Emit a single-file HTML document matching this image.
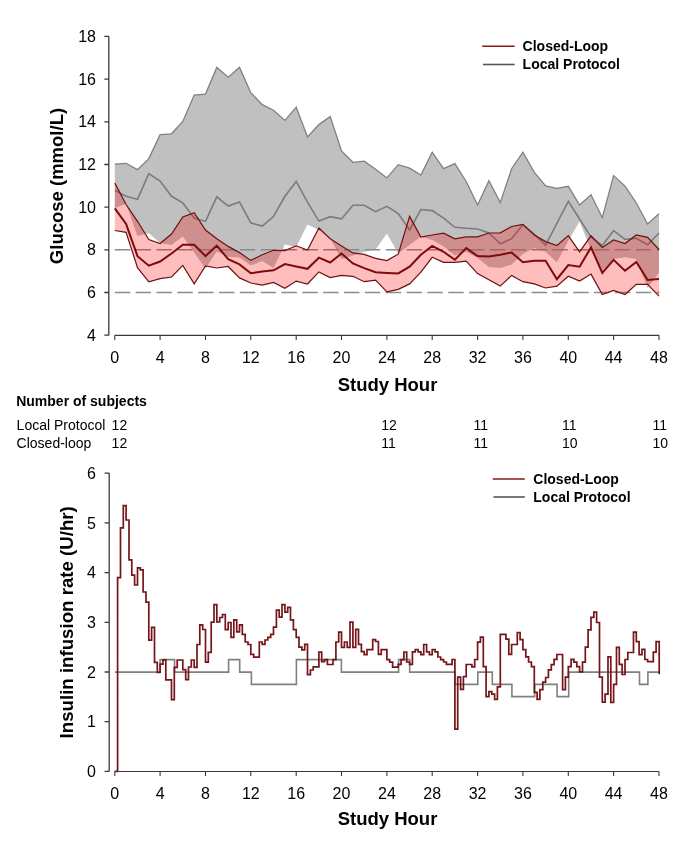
<!DOCTYPE html>
<html><head><meta charset="utf-8"><style>
html,body{margin:0;padding:0;background:#fff;}
svg{display:block;will-change:transform;}
text{font-family:"Liberation Sans",sans-serif;fill:#000;}
</style></head><body>
<svg width="685" height="856" viewBox="0 0 685 856">
<rect width="685" height="856" fill="#fff"/>
<!-- TOP CHART -->
<polygon points="114.8,164.2 126.1,163.3 137.5,169.6 148.8,158.6 160.1,134.6 171.5,133.8 182.8,121.4 194.2,95.1 205.5,94.1 216.8,67.4 228.2,77.2 239.5,67.4 250.8,92.7 262.2,104.6 273.5,110.2 284.9,120.4 296.2,107.2 307.5,137 318.9,124.6 330.2,116.6 341.5,150.9 352.9,162.3 364.2,161.1 375.6,169.2 386.9,177.9 398.2,164.7 409.6,168.1 420.9,175 432.2,152.3 443.6,168.7 454.9,163.6 466.2,181.5 477.6,205 488.9,180.8 500.3,202.6 511.6,168.7 522.9,152.2 534.3,172.3 545.6,185.8 556.9,188.4 568.3,186.3 579.6,205 591,194.8 602.3,217.7 613.6,175.6 625,186.1 636.3,203 647.6,224 659,213.8 659,272.5 647.6,288 636.3,259.1 625,257.2 613.6,259.1 602.3,270.4 591,250.3 579.6,221.4 568.3,240.7 556.9,262.3 545.6,251.8 534.3,248.1 522.9,253.9 511.6,264.6 500.3,268.1 488.9,267.1 477.6,258 466.2,251.8 454.9,255.4 443.6,246.6 432.2,240 420.9,236.4 409.6,245 398.2,253.4 386.9,233.6 375.6,249.6 364.2,251.8 352.9,255.4 341.5,259 330.2,238.6 318.9,230 307.5,224.5 296.2,247 284.9,244.4 273.5,268.1 262.2,261.1 250.8,265.4 239.5,257.6 228.2,256.7 216.8,251.5 205.5,268.6 194.2,252.4 182.8,236.4 171.5,245 160.1,243 148.8,233.2 137.5,236 126.1,203.7 114.8,208" fill="#c0c0c0" stroke="none"/>
<polyline points="114.8,164.2 126.1,163.3 137.5,169.6 148.8,158.6 160.1,134.6 171.5,133.8 182.8,121.4 194.2,95.1 205.5,94.1 216.8,67.4 228.2,77.2 239.5,67.4 250.8,92.7 262.2,104.6 273.5,110.2 284.9,120.4 296.2,107.2 307.5,137 318.9,124.6 330.2,116.6 341.5,150.9 352.9,162.3 364.2,161.1 375.6,169.2 386.9,177.9 398.2,164.7 409.6,168.1 420.9,175 432.2,152.3 443.6,168.7 454.9,163.6 466.2,181.5 477.6,205 488.9,180.8 500.3,202.6 511.6,168.7 522.9,152.2 534.3,172.3 545.6,185.8 556.9,188.4 568.3,186.3 579.6,205 591,194.8 602.3,217.7 613.6,175.6 625,186.1 636.3,203 647.6,224 659,213.8" fill="none" stroke="#808080" stroke-width="1.3" stroke-linejoin="miter"/>
<polyline points="114.8,190.4 126.1,196.2 137.5,199.4 148.8,173.6 160.1,181 171.5,196.3 182.8,202.9 194.2,218 205.5,221.4 216.8,196.8 228.2,206.1 239.5,202.1 250.8,222.8 262.2,226.1 273.5,216.6 284.9,196.3 296.2,181.4 307.5,202.1 318.9,221.1 330.2,216.7 341.5,218.9 352.9,205.3 364.2,205.3 375.6,211.6 386.9,206.3 398.2,213.6 409.6,230 420.9,209.5 432.2,210.6 443.6,218.1 454.9,227.3 466.2,228.3 477.6,229 488.9,233 500.3,243.8 511.6,238.7 522.9,224.8 534.3,234.2 545.6,245.2 556.9,223.3 568.3,201.3 579.6,219 591,237.1 602.3,245.5 613.6,230.7 625,239.4 636.3,238.3 647.6,244.7 659,233" fill="none" stroke="#7b7b7b" stroke-width="1.6"/>
<path d="M114.8,249.8H659.5M114.8,292.5H659.5" stroke="#8c8c8c" stroke-width="1.6" stroke-dasharray="15.4 5.44" fill="none"/>
<polygon points="114.8,183.1 126.1,204.5 137.5,221.3 148.8,239.5 160.1,243.5 171.5,234 182.8,217 194.2,212.7 205.5,230 216.8,238.8 228.2,246.4 239.5,252.6 250.8,260.4 262.2,254.8 273.5,250.3 284.9,250.6 296.2,245.8 307.5,250 318.9,228 330.2,238.7 341.5,245.9 352.9,252.9 364.2,254.4 375.6,258.3 386.9,260.6 398.2,254.2 409.6,216.4 420.9,237.1 432.2,235 443.6,233.1 454.9,238.9 466.2,236.9 477.6,236.9 488.9,233 500.3,232.8 511.6,226.5 522.9,224.3 534.3,235 545.6,241.6 556.9,245.5 568.3,235.6 579.6,251.9 591,235.8 602.3,247.4 613.6,239.9 625,243.5 636.3,235 647.6,237.4 659,249.5 659,296.1 647.6,284.3 636.3,284.3 625,294.5 613.6,290.4 602.3,294.5 591,274.1 579.6,281.1 568.3,276.3 556.9,286.1 545.6,288 534.3,283.9 522.9,281.7 511.6,275.4 500.3,286.1 488.9,279.8 477.6,273.6 466.2,261.2 454.9,262.3 443.6,262.3 432.2,257.3 420.9,272.2 409.6,283.9 398.2,289.4 386.9,291.9 375.6,280.2 364.2,281.7 352.9,276.3 341.5,275.4 330.2,277.6 318.9,271.9 307.5,284 296.2,281.1 284.9,288.2 273.5,282.5 262.2,285.2 250.8,283 239.5,277.9 228.2,266.5 216.8,268 205.5,266 194.2,283.8 182.8,265.4 171.5,277 160.1,278.7 148.8,281.8 137.5,267.7 126.1,232.3 114.8,230.5" fill="rgba(255,0,0,0.255)" stroke="none"/>
<polyline points="114.8,183.1 126.1,204.5 137.5,221.3 148.8,239.5 160.1,243.5 171.5,234 182.8,217 194.2,212.7 205.5,230 216.8,238.8 228.2,246.4 239.5,252.6 250.8,260.4 262.2,254.8 273.5,250.3 284.9,250.6 296.2,245.8 307.5,250 318.9,228 330.2,238.7 341.5,245.9 352.9,252.9 364.2,254.4 375.6,258.3 386.9,260.6 398.2,254.2 409.6,216.4 420.9,237.1 432.2,235 443.6,233.1 454.9,238.9 466.2,236.9 477.6,236.9 488.9,233 500.3,232.8 511.6,226.5 522.9,224.3 534.3,235 545.6,241.6 556.9,245.5 568.3,235.6 579.6,251.9 591,235.8 602.3,247.4 613.6,239.9 625,243.5 636.3,235 647.6,237.4 659,249.5" fill="none" stroke="#6e1010" stroke-width="1.2"/>
<polyline points="114.8,230.5 126.1,232.3 137.5,267.7 148.8,281.8 160.1,278.7 171.5,277 182.8,265.4 194.2,283.8 205.5,266 216.8,268 228.2,266.5 239.5,277.9 250.8,283 262.2,285.2 273.5,282.5 284.9,288.2 296.2,281.1 307.5,284 318.9,271.9 330.2,277.6 341.5,275.4 352.9,276.3 364.2,281.7 375.6,280.2 386.9,291.9 398.2,289.4 409.6,283.9 420.9,272.2 432.2,257.3 443.6,262.3 454.9,262.3 466.2,261.2 477.6,273.6 488.9,279.8 500.3,286.1 511.6,275.4 522.9,281.7 534.3,283.9 545.6,288 556.9,286.1 568.3,276.3 579.6,281.1 591,274.1 602.3,294.5 613.6,290.4 625,294.5 636.3,284.3 647.6,284.3 659,296.1" fill="none" stroke="#6e1010" stroke-width="1.2"/>
<polyline points="114.8,208.3 126.1,224 137.5,256.2 148.8,265.7 160.1,261.5 171.5,253.5 182.8,244.7 194.2,244.7 205.5,256.1 216.8,245.6 228.2,259.2 239.5,264.4 250.8,273.2 262.2,271.5 273.5,270.3 284.9,264.1 296.2,266.4 307.5,268.8 318.9,257.7 330.2,262.5 341.5,253.5 352.9,263.4 364.2,268.1 375.6,272.2 386.9,272.9 398.2,273.4 409.6,266.6 420.9,254.7 432.2,245.9 443.6,251.8 454.9,259.8 466.2,248.1 477.6,256.1 488.9,256.4 500.3,254.7 511.6,252.5 522.9,262.3 534.3,260.8 545.6,260.8 556.9,279.2 568.3,265.1 579.6,266.7 591,247.4 602.3,272.8 613.6,259.9 625,270.8 636.3,261.9 647.6,280 659,278.9" fill="none" stroke="#7e0b0b" stroke-width="2"/>
<path d="M108.8,36.4V335.4M104.3,335.2h4.6M104.3,292.5h4.6M104.3,249.8h4.6M104.3,207.2h4.6M104.3,164.5h4.6M104.3,121.8h4.6M104.3,79.1h4.6M104.3,36.4h4.6" stroke="#3a3a3a" stroke-width="1.3" fill="none"/><path d="M114.5,335.4H659.3M114.8,335.4v4.5M160.1,335.4v4.5M205.5,335.4v4.5M250.8,335.4v4.5M296.2,335.4v4.5M341.5,335.4v4.5M386.9,335.4v4.5M432.2,335.4v4.5M477.6,335.4v4.5M522.9,335.4v4.5M568.3,335.4v4.5M613.6,335.4v4.5M659,335.4v4.5" stroke="#3a3a3a" stroke-width="1.1" fill="none"/>
<g font-size="16"><text x="96" y="340.8" text-anchor="end">4</text><text x="96" y="298.1" text-anchor="end">6</text><text x="96" y="255.4" text-anchor="end">8</text><text x="96" y="212.8" text-anchor="end">10</text><text x="96" y="170.1" text-anchor="end">12</text><text x="96" y="127.4" text-anchor="end">14</text><text x="96" y="84.7" text-anchor="end">16</text><text x="96" y="42" text-anchor="end">18</text><text x="114.8" y="362.5" text-anchor="middle">0</text><text x="160.1" y="362.5" text-anchor="middle">4</text><text x="205.5" y="362.5" text-anchor="middle">8</text><text x="250.8" y="362.5" text-anchor="middle">12</text><text x="296.2" y="362.5" text-anchor="middle">16</text><text x="341.5" y="362.5" text-anchor="middle">20</text><text x="386.9" y="362.5" text-anchor="middle">24</text><text x="432.2" y="362.5" text-anchor="middle">28</text><text x="477.6" y="362.5" text-anchor="middle">32</text><text x="522.9" y="362.5" text-anchor="middle">36</text><text x="568.3" y="362.5" text-anchor="middle">40</text><text x="613.6" y="362.5" text-anchor="middle">44</text><text x="659" y="362.5" text-anchor="middle">48</text></g>
<text x="387.5" y="390.6" font-size="18.5" font-weight="bold" text-anchor="middle">Study Hour</text>
<text transform="translate(63.3,186) rotate(-90)" font-size="18.5" font-weight="bold" text-anchor="middle">Glucose (mmol/L)</text>
<path d="M482.2,46.3H514.7" stroke="#8b1a1a" stroke-width="1.6"/>
<path d="M483,64.5H514.7" stroke="#555" stroke-width="1.6"/>
<g font-size="14" font-weight="bold"><text x="522.6" y="50.8">Closed-Loop</text><text x="522.6" y="69.2">Local Protocol</text></g>
<!-- TABLE -->
<g font-size="14">
<text x="16.2" y="406" font-weight="bold">Number of subjects</text>
<text x="16.6" y="429.7">Local Protocol</text><text x="111.6" y="429.7">12</text>
<text x="381.3" y="429.7">12</text><text x="473.5" y="429.7">11</text><text x="562" y="429.7">11</text><text x="652.5" y="429.7">11</text>
<text x="16.6" y="447.9">Closed-loop</text><text x="111.6" y="447.9">12</text>
<text x="381.3" y="447.9">11</text><text x="473.5" y="447.9">11</text><text x="562" y="447.9">10</text><text x="652.5" y="447.9">10</text>
</g>
<!-- BOTTOM CHART -->
<path d="M114.8,672.1H160.1V659.6H174.6V672.1H228.6V659.6H239.7V672.1H251.4V684.4H296.4V659.6H341.4V672.1H398.6V659.6H409.7V672.1H455V684.4H477.8V672.1H492.3V684.4H511.9V696.6H534.7V684.4H557.1V696.6H568.7V672.1H639.5V684.4H647.9V672.1H659.2" fill="none" stroke="#808080" stroke-width="1.6"/>
<path d="M114.8,771.4H117.6V577.7H120.5V527.8H123.3V505.6H126.1V520H129V559.9H131.8V575.1H134.6V585H137.5V567.9H140.3V569.8H143.1V592H146V602.2H148.8V640.2H151.6V627.3H154.5V662.4H157.3V672.3H160.1V664.1H163V659.8H165.8V679.8H168.7V679.8H171.5V699.7H174.3V667.3H177.2V660H180V660H182.8V669.6H185.7V679.6H188.5V667H191.3V660H194.2V667.3H197V644.5H199.8V624.9H202.7V629.5H205.5V662.1H208.3V652.3H211.2V622.1H214V604.6H216.8V621.8H219.7V617.5H222.5V614.5H225.3V629.7H228.2V622.5H231V637.3H233.8V619.8H236.7V631.8H239.5V624.8H242.3V634.4H245.2V642H248V644.5H250.8V654.3H253.7V657.2H256.5V657.2H259.3V642H262.2V644.3H265V640H267.8V637.3H270.7V634.4H273.5V627.1H276.4V610.1H279.2V617.1H282V604.6H284.9V612.2H287.7V607.4H290.5V619.8H293.4V629.7H296.2V637.3H299V647.2H301.9V649.8H304.7V644.3H307.5V674.7H310.4V670H313.2V666.9H316V666.9H318.9V652.2H321.7V661.7H324.5V659.7H327.4V664.5H330.2V664.5H333V659.6H335.9V642H338.7V632.1H341.5V647.3H344.4V642H347.2V647.3H350V622.2H352.9V647.3H355.7V629.4H358.5V644.3H361.4V651.7H364.2V654.7H367V649.7H369.9V649.7H372.7V639.7H375.6V641.5H378.4V654.3H381.2V649.6H384.1V649.6H386.9V659.6H389.7V662.1H392.6V667.2H395.4V667.2H398.2V664.3H401.1V659.6H403.9V652H406.7V662H409.6V664.3H412.4V651.8H415.2V649.7H418.1V651.8H420.9V654.6H423.7V644.5H426.6V651.8H429.4V654.6H432.2V649.7H435.1V651.8H437.9V657H440.7V659.6H443.6V662H446.4V664.4H449.2V664.4H452.1V659.5H454.9V729.2H457.7V677.1H460.6V689.3H463.4V676.7H466.2V664.5H469.1V664.5H471.9V666.9H474.7V659.5H477.6V642.1H480.4V637.1H483.3V666.6H486.1V696.6H488.9V691.7H491.8V694.1H494.6V699.4H497.4V686.8H500.3V634.3H503.1V634.3H505.9V639.2H508.8V654.3H511.6V644.5H514.4V644.5H517.3V632.5H520.1V639.6H522.9V649.6H525.8V656.8H528.6V662H531.4V666.7H534.3V692.4H537.1V699.4H539.9V689.6H542.8V682.1H545.6V677.5H548.4V669.9H551.3V664.6H554.1V659.3H556.9V654.5H559.8V654.5H562.6V689.6H565.4V677.1H568.3V666.7H571.1V659.3H573.9V662.1H576.8V666.7H579.6V671.9H582.5V662.1H585.3V647.1H588.1V629.9H591V617.3H593.8V612.1H596.6V622.5H599.5V677.1H602.3V702.2H605.1V694.2H608V656.8H610.8V702.3H613.6V684.3H616.5V647.4H619.3V664.4H622.1V674.5H625V659.5H627.8V652.5H630.6V652.5H633.5V632.2H636.3V641.7H639.1V654.6H642V649.3H644.8V659.5H647.6V661.6H650.5V661.6H653.3V652.1H656.1V641.7H659.2V674.3" fill="none" stroke="#761519" stroke-width="1.7"/>
<path d="M109.2,473.1V771.5M104.6,771.4h4.6M104.6,721.7h4.6M104.6,672h4.6M104.6,622.3h4.6M104.6,572.6h4.6M104.6,522.9h4.6M104.6,473.2h4.6" stroke="#3a3a3a" stroke-width="1.3" fill="none"/><path d="M114.5,771.5H659.3M114.8,771.5v4.5M160.1,771.5v4.5M205.5,771.5v4.5M250.8,771.5v4.5M296.2,771.5v4.5M341.5,771.5v4.5M386.9,771.5v4.5M432.2,771.5v4.5M477.6,771.5v4.5M522.9,771.5v4.5M568.3,771.5v4.5M613.6,771.5v4.5M659,771.5v4.5" stroke="#3a3a3a" stroke-width="1.1" fill="none"/>
<g font-size="16"><text x="96" y="777" text-anchor="end">0</text><text x="96" y="727.3" text-anchor="end">1</text><text x="96" y="677.6" text-anchor="end">2</text><text x="96" y="627.9" text-anchor="end">3</text><text x="96" y="578.2" text-anchor="end">4</text><text x="96" y="528.5" text-anchor="end">5</text><text x="96" y="478.8" text-anchor="end">6</text><text x="114.8" y="798.5" text-anchor="middle">0</text><text x="160.1" y="798.5" text-anchor="middle">4</text><text x="205.5" y="798.5" text-anchor="middle">8</text><text x="250.8" y="798.5" text-anchor="middle">12</text><text x="296.2" y="798.5" text-anchor="middle">16</text><text x="341.5" y="798.5" text-anchor="middle">20</text><text x="386.9" y="798.5" text-anchor="middle">24</text><text x="432.2" y="798.5" text-anchor="middle">28</text><text x="477.6" y="798.5" text-anchor="middle">32</text><text x="522.9" y="798.5" text-anchor="middle">36</text><text x="568.3" y="798.5" text-anchor="middle">40</text><text x="613.6" y="798.5" text-anchor="middle">44</text><text x="659" y="798.5" text-anchor="middle">48</text></g>
<text x="387.5" y="825.2" font-size="18.5" font-weight="bold" text-anchor="middle">Study Hour</text>
<text transform="translate(73.4,622.3) rotate(-90)" font-size="18.66" font-weight="bold" text-anchor="middle">Insulin infusion rate (U/hr)</text>
<path d="M492.8,479H524.8" stroke="#8b1a1a" stroke-width="1.6"/>
<path d="M493.5,497H524.8" stroke="#555" stroke-width="1.6"/>
<g font-size="14" font-weight="bold"><text x="533.3" y="483.9">Closed-Loop</text><text x="533.3" y="502.1">Local Protocol</text></g>
</svg>
</body></html>
